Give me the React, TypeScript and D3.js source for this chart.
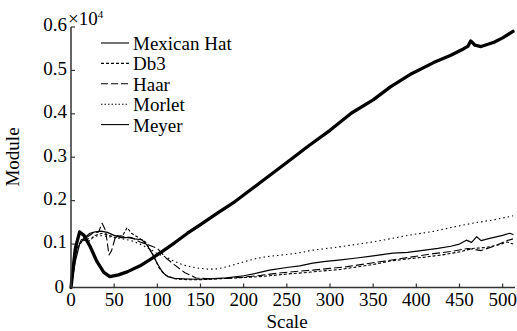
import React from "react";
import * as d3 from "d3";

const W = 517, H = 331;

const mexScale = [0,5,10,15,22,30,38,45,55,65,80,92,105,120,135,150,170,190,210,230,250,275,300,325,350,370,395,420,440,455,460,463,468,475,490,500,512];
const mexVal = [0,0.09,0.128,0.12,0.095,0.06,0.035,0.025,0.029,0.036,0.05,0.065,0.082,0.103,0.125,0.145,0.172,0.198,0.228,0.258,0.288,0.326,0.362,0.402,0.432,0.462,0.493,0.518,0.535,0.55,0.556,0.568,0.558,0.555,0.565,0.575,0.59];

const db3Scale = [0,4,8,14,20,28,36,44,52,60,65,70,78,86,94,102,110,120,135,150,170,190,210,230,250,270,290,310,330,350,370,390,410,430,450,465,480,495,505,512];
const db3Val = [0,0.06,0.095,0.11,0.105,0.12,0.125,0.12,0.115,0.12,0.138,0.125,0.115,0.105,0.08,0.045,0.028,0.02,0.018,0.018,0.02,0.022,0.024,0.027,0.031,0.034,0.038,0.041,0.047,0.053,0.061,0.066,0.07,0.075,0.082,0.09,0.092,0.098,0.105,0.1];

const haarScale = [0,3,7,12,18,25,32,36,40,44,47,52,60,70,80,90,100,110,120,132,145,160,180,200,220,240,260,280,300,320,340,360,380,400,420,440,460,475,490,505,512];
const haarVal = [0,0.05,0.09,0.11,0.115,0.125,0.128,0.148,0.132,0.075,0.085,0.12,0.118,0.115,0.105,0.098,0.09,0.068,0.052,0.034,0.022,0.02,0.021,0.024,0.028,0.033,0.037,0.04,0.044,0.048,0.054,0.06,0.066,0.072,0.078,0.083,0.09,0.085,0.095,0.108,0.112];

const morletScale = [0,3,6,10,16,24,32,40,50,60,70,80,90,100,110,120,130,140,150,160,170,185,200,215,230,250,265,280,305,326,350,369,390,419,440,465,490,512];
const morletVal = [0,0.04,0.08,0.1,0.11,0.115,0.12,0.118,0.115,0.112,0.108,0.1,0.09,0.078,0.07,0.06,0.052,0.047,0.044,0.042,0.043,0.05,0.059,0.067,0.072,0.076,0.08,0.086,0.092,0.098,0.105,0.112,0.12,0.129,0.138,0.148,0.156,0.165];

const meyerScale = [0,5,10,16,22,28,35,42,50,58,66,74,82,88,94,100,106,112,120,130,145,160,180,200,215,230,250,265,280,295,310,331,350,373,390,410,425,440,450,458,464,470,475,485,500,508,512];
const meyerVal = [0,0.06,0.1,0.115,0.125,0.128,0.13,0.127,0.12,0.115,0.115,0.112,0.11,0.098,0.078,0.055,0.035,0.025,0.021,0.02,0.019,0.02,0.022,0.027,0.033,0.04,0.046,0.05,0.056,0.06,0.063,0.068,0.073,0.079,0.081,0.086,0.09,0.095,0.1,0.109,0.104,0.117,0.108,0.113,0.12,0.125,0.122];

const legendNames = ["Mexican Hat", "Db3", "Haar", "Morlet", "Meyer"];
const xTicks = [0,50,100,150,200,250,300,350,400,450,500];
const yTicks = [0,0.1,0.2,0.3,0.4,0.5,0.6];

const series = [
  { name: "Mexican Hat", xs: mexScale, ys: mexVal, width: 3.3, dash: "" },
  { name: "Db3", xs: db3Scale, ys: db3Val, width: 1.1, dash: "3,2" },
  { name: "Haar", xs: haarScale, ys: haarVal, width: 1.1, dash: "8,3" },
  { name: "Morlet", xs: morletScale, ys: morletVal, width: 1.1, dash: "1.5,3" },
  { name: "Meyer", xs: meyerScale, ys: meyerVal, width: 1.2, dash: "" },
];
const legendDash = ["", "3,2", "7,3", "1.5,2", ""];

export default function App() {
  const x = d3.scaleLinear().domain([0, 512]).range([71, 513]);
  const y = d3.scaleLinear().domain([0, 0.6]).range([287.5, 27]);
  const line = d3.line<[number, number]>().x(d => x(d[0])).y(d => y(d[1]));
  const font = "'Liberation Serif', 'Times New Roman', serif";
  return (
    <svg width={W} height={H} style={{ position: "fixed", left: 0, top: 0, background: "#fff", fontFamily: font }}>
      {series.map(s => (
        <path key={s.name} d={line(s.xs.map((v, i) => [v, s.ys[i]] as [number, number])) || ""}
          fill="none" stroke="#000" strokeWidth={s.width} strokeDasharray={s.dash}
          strokeLinejoin="round" strokeLinecap={s.dash ? "butt" : "round"} />
      ))}
      <line x1={x(0)} x2={x(0)} y1={y(0)} y2={y(0.6)} stroke="#333" strokeWidth={1.5} />
      <line x1={x(0)} x2={x(512) + 2} y1={y(0)} y2={y(0)} stroke="#333" strokeWidth={1.5} />
      {yTicks.map(t => (
        <g key={"y" + t}>
          <line x1={x(0)} x2={x(0) + 4} y1={y(t)} y2={y(t)} stroke="#333" strokeWidth={1.2} />
          <text x={t === 0 ? 64 : 67} y={y(t) + (t === 0 ? 1 : 0)} fontSize={19} textAnchor="end" dominantBaseline="middle">{t === 0 ? "0" : t.toFixed(1)}</text>
        </g>
      ))}
      {xTicks.map(t => (
        <g key={"x" + t}>
          <line x1={x(t)} x2={x(t)} y1={y(0)} y2={y(0) - 4} stroke="#333" strokeWidth={1.2} />
          <text x={x(t)} y={306} fontSize={19} textAnchor="middle">{t}</text>
        </g>
      ))}
      <text x={68} y={25} fontSize={19}>×10<tspan fontSize={11} dy={-7}>4</tspan></text>
      <text x={287} y={328} fontSize={19} textAnchor="middle">Scale</text>
      <text transform="translate(19,157) rotate(-90)" fontSize={19} textAnchor="middle">Module</text>
      {legendNames.map((n, i) => {
        const ly = 43 + i * 20.4;
        return (
          <g key={n}>
            <line x1={101} x2={129} y1={ly} y2={ly} stroke="#000" strokeWidth={1.1} strokeDasharray={legendDash[i]} />
            <text x={133} y={ly + 7} fontSize={19}>{n}</text>
          </g>
        );
      })}
    </svg>
  );
}
